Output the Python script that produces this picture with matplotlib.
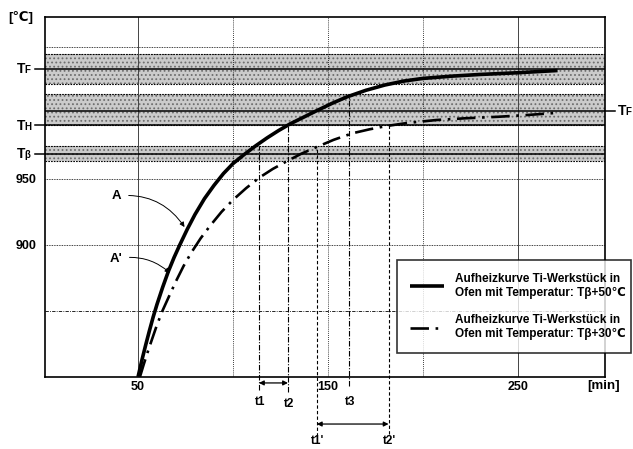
import matplotlib.pyplot as plt

plt.rcParams['font.family'] = ['Liberation Sans', 'DejaVu Sans']
plt.rcParams['font.weight'] = 'bold'
plt.rcParams['hatch.linewidth'] = 0.8
plt.rcParams['hatch.color'] = '#6e6e6e'

# heating curve A: furnace at T_beta + 50
t_A = [50, 52, 54, 56, 58, 60, 63, 66, 69, 72, 76, 80, 85, 90, 95, 100, 106, 112, 118, 124,
       130, 137, 144, 152, 160, 170, 180, 190, 200, 215, 230, 250, 271]
T_A = [800, 812.5, 824, 835, 845.5, 855, 868, 880, 890.5, 900, 912, 923, 935, 945, 954, 961.5,
       968.5, 975, 981, 986.5, 991.5, 996.5, 1001.5, 1007, 1012, 1017, 1021, 1024, 1026,
       1027.7, 1029, 1030.3, 1032]
# heating curve A': furnace at T_beta + 30
t_A2 = [51, 53, 55, 57, 60, 63, 66, 70, 74, 78, 83, 88, 94, 100, 107, 114, 121, 128, 136,
        144, 153, 163, 172, 181, 192, 207, 222, 240, 255, 271]
T_A2 = [800, 809.5, 818.5, 827, 839.5, 850.5, 860, 872.5, 884, 894, 905, 914.5, 925, 934,
        943, 951, 957.5, 963, 969, 974, 979.5, 984.5, 987.5, 990, 992.3, 994.5, 995.8, 997,
        998.3, 1000]

T_F = 1033
T_F2 = 1001.5
T_H = 990.5
T_beta = 969
bands = [(1021.5, 1044.5), (990.5, 1014.5), (963.5, 975)]
grid_T = [850, 900, 950, 1050]
grid_t = [50, 100, 150, 200, 250]
x_ticks = [50, 150, 250]
y_ticks = [900, 950]

marks = ['t1', 't2', 't3', "t1'", "t2'"]
mark_t = [113.7, 129, 161, 144.2, 182]
mark_top = [975, 990, 1014, 974, 991]
mark_bottom = [790, 788.5, 793, 755, 757]
mark_label_T = [781, 779.5, 781, 751.5, 751.5]

legend_labels = ['Aufheizkurve Ti-Werkstück in\nOfen mit Temperatur: T\u03b2+50\u2103',
                 'Aufheizkurve Ti-Werkstück in\nOfen mit Temperatur: T\u03b2+30\u2103']

W, H = 633, 449


def px(x, y):
    return x / W, 1 - y / H


fig = plt.figure(figsize=(W / 100, H / 100), dpi=100)
ax = fig.add_axes([45 / W, 1 - 377 / H, 560 / W, 360 / H])
ax.set_xlim(1, 296)
ax.set_ylim(800, 1072.5)

# shaded temperature bands
for lo, hi in bands:
    ax.axhspan(lo, hi, facecolor='#cbcbcb', hatch='....', linewidth=0, zorder=0)
    ax.axhline(lo, color='k', ls=(0, (1.5, 1)), lw=0.8, zorder=1)
    ax.axhline(hi, color='k', ls=(0, (1.5, 1)), lw=0.8, zorder=1)
for lvl in [T_F, T_F2, T_H, T_beta]:
    ax.axhline(lvl, color='k', lw=1.1, zorder=2)

for g in grid_T:
    ls = (0, (4, 1.5, 1, 1.5)) if g == 850 else (0, (1, 1))
    ax.axhline(g, color='k', ls=ls, lw=0.6, zorder=1)
for g in grid_t:
    if g in (50, 250):
        ax.axvline(g, color='#444444', lw=0.7, zorder=1)
    else:
        ax.axvline(g, color='k', ls=(0, (1, 1.5)), lw=0.6, zorder=1)

lineA, = ax.plot(t_A, T_A, color='k', lw=2.6, solid_capstyle='butt', zorder=5)
lineA2, = ax.plot(t_A2, T_A2, color='k', lw=1.9, ls=(0, (7, 2.5, 1, 2.5)), zorder=5)

# time markers
for i, name in enumerate(marks):
    ls = (0, (5, 1.5, 1, 1.5)) if i < 3 else (0, (3, 2))
    ax.plot([mark_t[i], mark_t[i]], [mark_bottom[i], mark_top[i]], color='k', lw=0.8,
            ls=ls, clip_on=False, zorder=3)
    ax.text(mark_t[i] + 0.5, mark_label_T[i], name, ha='center', va='center', fontsize=8.5)

for a, b, lvl in [(0, 1, 795.5), (3, 4, 764.4)]:
    ax.annotate('', xy=(mark_t[b], lvl), xytext=(mark_t[a], lvl), annotation_clip=False,
                arrowprops=dict(arrowstyle='<|-|>', color='k', lw=0.9, mutation_scale=7,
                                shrinkA=0, shrinkB=0))

# curve labels
ax.annotate('A', xy=(74.5, 913.5), xytext=(38.9, 937), fontsize=9.5, ha='center', va='center',
            arrowprops=dict(arrowstyle='-|>', color='k', lw=0.7, mutation_scale=7,
                            connectionstyle='arc3,rad=-0.3', shrinkA=3, shrinkB=0))
ax.annotate("A'", xy=(66.8, 878.8), xytext=(38.5, 889.4), fontsize=9.5, ha='center', va='center',
            arrowprops=dict(arrowstyle='-|>', color='k', lw=0.7, mutation_scale=7,
                            connectionstyle='arc3,rad=-0.25', shrinkA=3, shrinkB=0))

ax.set_xticks(x_ticks)
ax.set_xticklabels([str(v) for v in x_ticks], fontsize=9)
ax.set_yticks(y_ticks)
ax.set_yticklabels([str(v) for v in y_ticks], fontsize=9)
ax.tick_params(length=0)
ax.tick_params(axis='x', pad=3)
ax.tick_params(axis='y', pad=6)
for s in ax.spines.values():
    s.set_linewidth(1.2)

fig.text(*px(21, 17), '[\u2103]', ha='center', va='center', fontsize=9.5)
fig.text(*px(604, 386), '[min]', ha='center', va='center', fontsize=9.5)


def t_label(x, y, sub):
    fig.text(*px(x, y), 'T', ha='left', va='baseline', fontsize=10)
    fig.text(*px(x + 7.5, y), sub, ha='left', va='baseline', fontsize=7)


for lvl, sub in [(T_F, 'F'), (T_H, 'H'), (T_beta, '\u03b2')]:
    ax.plot([-4.5, 1], [lvl, lvl], color='k', lw=1.1, clip_on=False)
    ypix = 377 - (lvl - 800) * 1.32
    t_label(17, ypix + 4, sub)

ax.plot([296, 301.5], [T_F2, T_F2], color='k', lw=1.1, clip_on=False)
t_label(618, 377 - (T_F2 - 800) * 1.32 + 4, 'F')

x0, y0 = px(397, 355)
x1, y1 = px(631, 260)
leg = ax.legend([lineA, lineA2], legend_labels, loc='upper left', mode='expand',
                bbox_to_anchor=(x0, y0, x1 - x0, y1 - y0), bbox_transform=fig.transFigure,
                fontsize=8.5, frameon=True, fancybox=False, handlelength=2.9,
                handletextpad=0.9, labelspacing=1.3, borderpad=1.1, borderaxespad=0)
leg.get_frame().set_edgecolor('k')
leg.get_frame().set_linewidth(1.2)
leg.set_zorder(10)

fig.savefig('out.png', dpi=100)
